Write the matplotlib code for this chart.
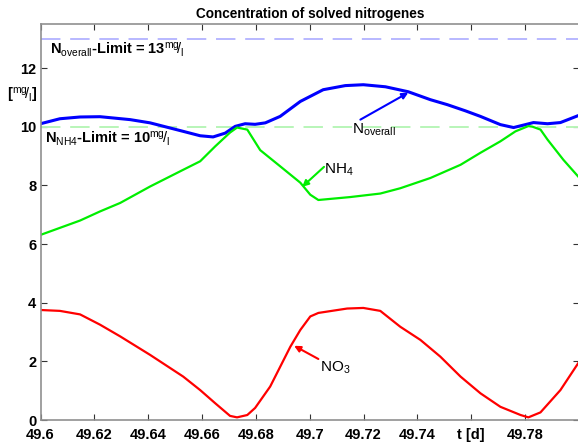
import matplotlib
matplotlib.use("Agg")
import matplotlib.pyplot as plt
import matplotlib.transforms as mtransforms

plt.rcParams['font.family'] = ['Liberation Sans', 'DejaVu Sans']
plt.rcParams['mathtext.fontset'] = 'custom'
plt.rcParams['mathtext.rm'] = 'Liberation Sans'
plt.rcParams['mathtext.it'] = 'Liberation Sans:italic'
plt.rcParams['mathtext.bf'] = 'Liberation Sans:bold'

# ---- data ----
t_overall = [49.6000, 49.6072, 49.6147, 49.6221, 49.6333, 49.6407, 49.6530, 49.6593,
             49.6641, 49.6686, 49.6723, 49.6760, 49.6797, 49.6835, 49.6890, 49.6965,
             49.7050, 49.7132, 49.7199, 49.7281, 49.7366, 49.7448, 49.7511, 49.7578,
             49.7634, 49.7708, 49.7757, 49.7801, 49.7831, 49.7883, 49.7931, 49.7998]
n_overall = [10.10, 10.27, 10.33, 10.34, 10.24, 10.13, 9.84, 9.69,
             9.65, 9.78, 10.01, 10.10, 10.08, 10.13, 10.35, 10.86,
             11.26, 11.40, 11.43, 11.36, 11.19, 10.92, 10.75, 10.54,
             10.35, 10.07, 9.97, 10.07, 10.14, 10.10, 10.14, 10.38]

t_nh4 = [49.6000, 49.6072, 49.6147, 49.6221, 49.6296, 49.6407, 49.6530, 49.6593,
         49.6649, 49.6704, 49.6730, 49.6768, 49.6816, 49.6890, 49.6965, 49.7002,
         49.7032, 49.7150, 49.7262, 49.7336, 49.7448, 49.7560, 49.7634, 49.7708,
         49.7764, 49.7812, 49.7827, 49.7857, 49.7883, 49.7942, 49.7998]
nh4 = [6.31, 6.55, 6.80, 7.11, 7.40, 7.96, 8.53, 8.82,
       9.33, 9.80, 9.97, 9.90, 9.20, 8.65, 8.09, 7.68,
       7.50, 7.60, 7.72, 7.90, 8.25, 8.70, 9.11, 9.50,
       9.84, 10.02, 10.00, 9.90, 9.56, 8.87, 8.29]

t_no3 = [49.6000, 49.6072, 49.6147, 49.6221, 49.6296, 49.6407, 49.6530, 49.6593,
         49.6649, 49.6704, 49.6730, 49.6768, 49.6797, 49.6853, 49.6928, 49.6965,
         49.7002, 49.7032, 49.7139, 49.7199, 49.7262, 49.7336, 49.7411, 49.7485,
         49.7560, 49.7634, 49.7708, 49.7783, 49.7812, 49.7857, 49.7931, 49.7998]
no3 = [3.75, 3.72, 3.60, 3.25, 2.85, 2.22, 1.48, 1.02,
       0.57, 0.14, 0.09, 0.17, 0.41, 1.14, 2.50, 3.07,
       3.53, 3.65, 3.80, 3.82, 3.72, 3.18, 2.73, 2.16,
       1.48, 0.91, 0.45, 0.17, 0.09, 0.26, 1.02, 1.95]

limit_overall = 13
limit_nh4 = 10

xticks = [49.60, 49.62, 49.64, 49.66, 49.68, 49.70, 49.72, 49.74, 49.76, 49.78]
xticklabels = ['49.6', '49.62', '49.64', '49.66', '49.68', '49.7', '49.72', '49.74', 't [d]', '49.78']
yticks = [0, 2, 4, 6, 8, 10, 12]
yticklabels = ['0', '2', '4', '6', '8', '10', '12']

title = 'Concentration of solved nitrogenes'

# ---- figure ----
fig = plt.figure(figsize=(5.78, 4.43), dpi=100)
ax = fig.add_axes([40.5 / 578, 23 / 443, 538.5 / 578, 396 / 443])

ax.axhline(limit_overall, color='#b8b8ff', lw=1.4, dashes=(10, 5))
ax.axhline(limit_nh4, color='#b8f5b8', lw=1.4, dashes=(10, 5))

ax.plot(t_overall, n_overall, color='#0000ff', lw=2.2)
ax.plot(t_nh4, nh4, color='#00ee00', lw=1.6)
ax.plot(t_no3, no3, color='#ff0000', lw=1.6)

ax.set_xlim(49.6, 49.8)
ax.set_ylim(0, 13.5)
ax.set_xticks(xticks)
ax.set_xticklabels(xticklabels, fontweight='bold', fontsize=10.5)
ax.set_yticks(yticks)
ax.set_yticklabels(yticklabels, fontweight='bold', fontsize=10.5)
ax.tick_params(direction='in', top=True, right=True, length=4, width=0.8,
               color='#333333', pad=3)
ax.tick_params(axis='x', pad=6)
for s in ax.spines.values():
    s.set_color('#909090')
    s.set_linewidth(1.2)

ax.set_title(title, fontweight='bold', fontsize=9.8, pad=4)

# unit label on y axis
trans = mtransforms.blended_transform_factory(ax.transAxes, ax.transData)
ax.text(-0.006, 11.05, r'[$^{\mathrm{mg}}\!/_{\mathrm{l}}$]', transform=trans,
        ha='right', va='center', fontsize=10.5, fontweight='bold')

# limit labels
ax.text(49.6035, 12.46, r'$\mathbf{N}_{\mathrm{overall}}$-Limit = 13$^{\mathrm{mg}}\!/_{\mathrm{l}}$',
        ha='left', va='baseline', fontsize=10.5, fontweight='bold')
ax.text(49.6017, 9.45, r'$\mathbf{N}_{\mathrm{NH4}}$-Limit = 10$^{\mathrm{mg}}\!/_{\mathrm{l}}$',
        ha='left', va='baseline', fontsize=10.5, fontweight='bold')

# annotations
def arrow(tail, tip, color):
    ax.annotate('', xy=tip, xytext=tail,
                arrowprops=dict(arrowstyle='-|>', color=color, lw=1.5,
                                mutation_scale=9, shrinkA=0, shrinkB=0))

arrow((49.7188, 10.24), (49.7366, 11.16), '#0000ff')
ax.text(49.7158, 9.78, r'N$_{\mathrm{overall}}$', ha='left', va='baseline', fontsize=11)

arrow((49.7053, 8.63), (49.6972, 7.95), '#00ee00')
ax.text(49.7053, 8.40, r'NH$_{4}$', ha='left', va='baseline', fontsize=11)

arrow((49.7032, 2.08), (49.6942, 2.53), '#ff0000')
ax.text(49.7039, 1.65, r'NO$_{3}$', ha='left', va='baseline', fontsize=11)

fig.savefig('out.png', dpi=100)
